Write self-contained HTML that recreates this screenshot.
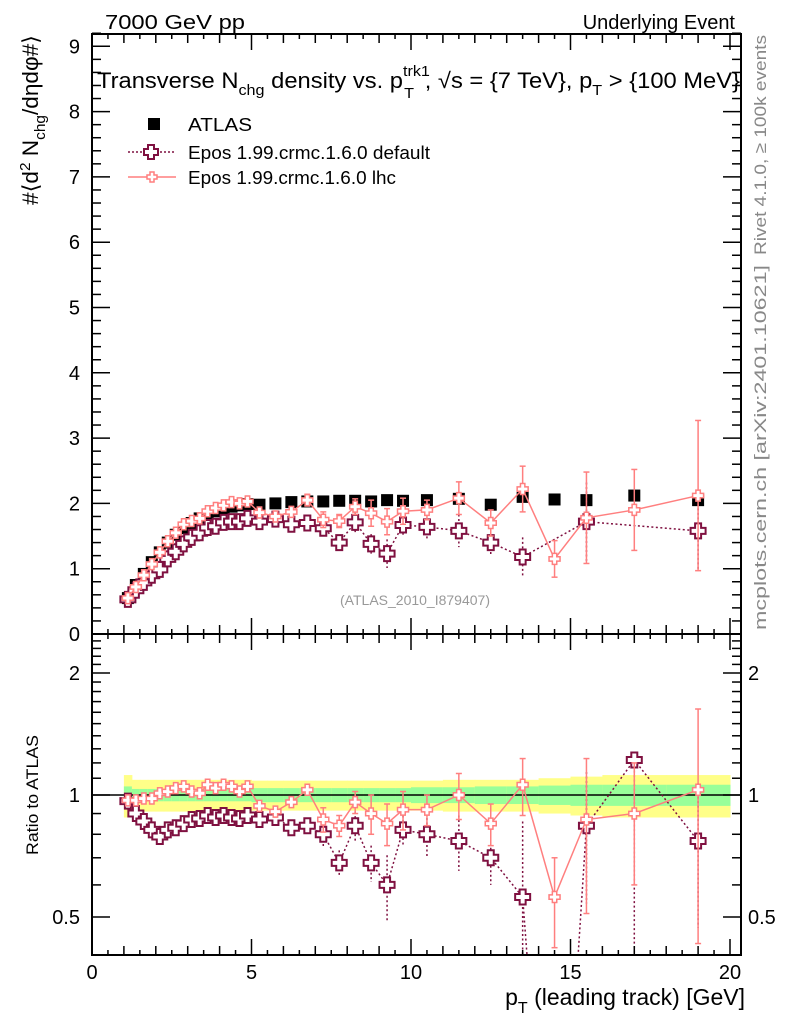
<!DOCTYPE html>
<html><head><meta charset="utf-8"><style>
html,body{margin:0;padding:0;background:#fff;overflow:hidden;}
svg{display:block;font-family:"Liberation Sans",sans-serif;}
</style></head><body>
<svg id="chart" width="786" height="1024" viewBox="0 0 786 1024" xmlns="http://www.w3.org/2000/svg">
<defs>
<clipPath id="clipMain"><rect x="92" y="34" width="649" height="600"/></clipPath>
<clipPath id="clipRatio"><rect x="92" y="634" width="649" height="321"/></clipPath>
</defs>
<text x="105" y="29" font-size="20" textLength="140" lengthAdjust="spacingAndGlyphs">7000 GeV pp</text>
<text x="735" y="29" font-size="20" text-anchor="end">Underlying Event</text>
<text transform="translate(766,255) rotate(-90)" font-size="17" fill="#888" textLength="220" lengthAdjust="spacingAndGlyphs">Rivet 4.1.0, ≥ 100k events</text>
<text transform="translate(766,630) rotate(-90)" font-size="17" fill="#888" textLength="365" lengthAdjust="spacingAndGlyphs">mcplots.cern.ch [arXiv:2401.10621]</text>
<g id="grid"></g>
<g id="marks"></g>
<rect x="92" y="34" width="649" height="600" fill="none" stroke="#000" stroke-width="2"/>
<rect x="92" y="634" width="649" height="321" fill="none" stroke="#000" stroke-width="2"/>
<g id="axes"></g>
<text x="97" y="88" font-size="22" textLength="643" lengthAdjust="spacingAndGlyphs">Transverse N<tspan font-size="15" dy="7">chg</tspan><tspan dy="-7"> density vs. p</tspan><tspan font-size="15" dy="-12">trk1</tspan><tspan font-size="15" dx="-24" dy="22">T</tspan><tspan dy="-10" dx="10">, √s = {7 TeV}, p</tspan><tspan font-size="15" dy="7">T</tspan><tspan dy="-7"> &gt; {100 MeV}</tspan></text>
<g>
<rect x="148" y="118" width="12" height="12" fill="#000"/>
<text x="188" y="131" font-size="18" textLength="64" lengthAdjust="spacingAndGlyphs">ATLAS</text>
<line x1="128" y1="152" x2="176" y2="152" stroke="#7f1040" stroke-width="1.5" stroke-dasharray="2,2"/>
<path d="M148,145h6v4h4v6h-4v4h-6v-4h-4v-6h4z" fill="#fff" stroke="#7f1040" stroke-width="2"/>
<text x="188" y="159" font-size="18" textLength="242" lengthAdjust="spacingAndGlyphs">Epos 1.99.crmc.1.6.0 default</text>
<line x1="128" y1="177" x2="176" y2="177" stroke="#ff7f7f" stroke-width="1.5"/>
<path d="M150,172h4v3h3v4h-3v3h-4v-3h-3v-4h3z" fill="#fff" stroke="#ff7f7f" stroke-width="1.5"/>
<text x="188" y="184" font-size="18" textLength="208" lengthAdjust="spacingAndGlyphs">Epos 1.99.crmc.1.6.0 lhc</text>
</g>
<text x="415" y="605" font-size="14" fill="#999" text-anchor="middle">(ATLAS_2010_I879407)</text>
<text transform="translate(38,205) rotate(-90)" font-size="22" textLength="170" lengthAdjust="spacingAndGlyphs">#⟨d<tspan font-size="15" dy="-8">2</tspan><tspan dy="8"> N</tspan><tspan font-size="15" dy="7">chg</tspan><tspan dy="-7">/dηdφ#⟩</tspan></text>
<text transform="translate(38,855) rotate(-90)" font-size="17" textLength="120" lengthAdjust="spacingAndGlyphs">Ratio to ATLAS</text>
<text x="745" y="1005" font-size="23" text-anchor="end">p<tspan font-size="16" dy="8">T</tspan><tspan dy="-8"> (leading track) [GeV]</tspan></text>
</svg>
<script>
const xs = [1.125,1.375,1.625,1.875,2.125,2.375,2.625,2.875,3.125,3.375,3.625,3.875,4.125,4.375,4.625,4.875,5.25,5.75,6.25,6.75,7.25,7.75,8.25,8.75,9.25,9.75,10.5,11.5,12.5,13.5,14.5,15.5,17,19];
const atlas = [0.55,0.75,0.92,1.1,1.25,1.4,1.52,1.62,1.7,1.77,1.83,1.88,1.92,1.95,1.97,1.99,1.98,2.0,2.02,2.03,2.03,2.04,2.04,2.03,2.05,2.04,2.05,2.07,1.98,2.1,2.06,2.05,2.12,2.05];
const lhc = [0.55,0.72,0.9,1.07,1.25,1.42,1.55,1.68,1.73,1.77,1.88,1.93,1.97,2.02,2.0,2.03,1.86,1.8,1.87,2.05,1.75,1.73,1.95,1.85,1.72,1.88,1.9,2.08,1.7,2.22,1.15,1.78,1.9,2.12];
const lhcErr = [0.02,0.02,0.02,0.02,0.02,0.02,0.02,0.03,0.03,0.03,0.03,0.04,0.04,0.05,0.05,0.05,0.05,0.06,0.07,0.09,0.12,0.1,0.12,0.2,0.2,0.2,0.15,0.25,0.2,0.35,0.28,0.7,0.62,1.15];
const def = [0.53,0.67,0.79,0.9,0.99,1.15,1.26,1.38,1.48,1.55,1.63,1.65,1.71,1.72,1.72,1.77,1.72,1.76,1.68,1.7,1.62,1.4,1.71,1.38,1.23,1.67,1.64,1.58,1.4,1.18,null,1.72,null,1.58];
const defErr = [0.02,0.02,0.02,0.02,0.02,0.02,0.02,0.03,0.03,0.03,0.03,0.04,0.04,0.04,0.05,0.05,0.05,0.06,0.07,0.08,0.12,0.1,0.15,0.15,0.22,0.15,0.2,0.25,0.2,0.3,0,0.6,0,0.62];
const lhcRatio = [0.97,0.97,0.98,0.98,1.01,1.02,1.04,1.05,1.02,1.01,1.06,1.04,1.06,1.05,1.02,1.05,0.94,0.91,0.96,1.03,0.87,0.84,0.96,0.9,0.85,0.92,0.92,1.0,0.85,1.06,0.56,0.87,0.9,1.03];
const lhcRatioErr = [0.02,0.02,0.02,0.02,0.02,0.02,0.02,0.02,0.02,0.02,0.02,0.02,0.02,0.03,0.03,0.03,0.03,0.03,0.04,0.04,0.06,0.05,0.06,0.1,0.1,0.1,0.08,0.13,0.1,0.17,0.14,0.36,0.3,0.6];
const defRatio = [0.966,0.9,0.86,0.82,0.79,0.82,0.83,0.85,0.87,0.875,0.89,0.88,0.89,0.88,0.875,0.89,0.87,0.88,0.83,0.84,0.8,0.68,0.84,0.68,0.6,0.82,0.8,0.77,0.7,0.56,0.05,0.84,1.22,0.77];
const defRatioErr = [0.02,0.02,0.02,0.02,0.02,0.02,0.02,0.02,0.02,0.02,0.02,0.02,0.02,0.02,0.03,0.03,0.03,0.03,0.04,0.04,0.06,0.05,0.07,0.07,0.11,0.07,0.1,0.12,0.1,0.3,0,0.3,1.0,0.3];
const defRatioErrUp = [0.02,0.02,0.02,0.02,0.02,0.02,0.02,0.02,0.02,0.02,0.02,0.02,0.02,0.02,0.03,0.03,0.03,0.03,0.04,0.04,0.06,0.05,0.07,0.07,0.11,0.07,0.1,0.12,0.1,0.3,0,0.3,0.02,0.3];
const bandYellow = [0.12,0.09,0.09,0.09,0.09,0.09,0.09,0.09,0.09,0.09,0.09,0.09,0.09,0.09,0.09,0.09,0.085,0.085,0.085,0.085,0.085,0.085,0.085,0.085,0.085,0.085,0.085,0.09,0.09,0.09,0.1,0.11,0.12,0.12];
const bandGreen = [0.05,0.035,0.035,0.035,0.035,0.035,0.035,0.035,0.035,0.035,0.035,0.035,0.035,0.035,0.035,0.035,0.04,0.04,0.04,0.04,0.04,0.04,0.04,0.04,0.04,0.04,0.045,0.045,0.05,0.05,0.055,0.06,0.06,0.06];
const binEdges = [1.0,1.25,1.5,1.75,2.0,2.25,2.5,2.75,3.0,3.25,3.5,3.75,4.0,4.25,4.5,4.75,5.0,5.5,6.0,6.5,7.0,7.5,8.0,8.5,9.0,9.5,10.0,11.0,12.0,13.0,14.0,15.0,16.0,18.0,20.0];
const xTickMajor = [0,5,10,15,20];
const yTickMain = [0,1,2,3,4,5,6,7,8,9];
const yTickRatioLabels = [0.5,1,2];
const yTickRatioMinor = [0.5,0.6,0.7,0.8,0.9,1,1.1,1.2,1.3,1.4,1.5,1.6,1.7,1.8,1.9,2,2.1,2.2,2.3,2.4];

const NS="http://www.w3.org/2000/svg";
const X = v => 92 + v*31.9;
const Y = v => 634 - v*65.3;
const R = v => 795 - Math.log2(v)*122;
function mk(tag, attrs, parent){const e=document.createElementNS(NS,tag);for(const k in attrs)e.setAttribute(k,attrs[k]);parent.appendChild(e);return e;}
const grid=document.getElementById('grid'), marks=document.getElementById('marks'), axes=document.getElementById('axes');

const bands=mk('g',{'clip-path':'url(#clipRatio)'},grid);


for(let i=0;i<xs.length;i++){
  const x0=X(binEdges[i]), x1=X(binEdges[i+1]);
  const y=mk('rect',{x:x0,y:R(1+bandYellow[i]),width:x1-x0+0.5,height:R(1-bandYellow[i])-R(1+bandYellow[i]),fill:'#ffff88'},bands);
  
  
  const g=mk('rect',{x:x0,y:R(1+bandGreen[i]),width:x1-x0+0.5,height:R(1-bandGreen[i])-R(1+bandGreen[i]),fill:'#99ff99'},bands);
  
  
}
const one=mk('line',{x1:92,x2:741,y1:R(1),y2:R(1),stroke:'#000','stroke-width':1.5},grid);



function cross(parent,x,y,s,color,w){
  const a=s/2,b=s/5;
  return mk('path',{d:`M${x-b},${y-a}h${2*b}v${a-b}h${a-b}v${2*b}h${-(a-b)}v${a-b}h${-2*b}v${-(a-b)}h${-(a-b)}v${-2*b}h${a-b}z`,fill:'#fff',stroke:color,'stroke-width':w},parent);
}
function series(parent,vals,errs,errsUp,fy,color,dash,size,w,name,skipNull){
  const g=mk('g',{},parent);
  
  
  let pts=[];
  for(let i=0;i<xs.length;i++){ if(vals[i]==null) continue; pts.push(X(xs[i])+','+fy(vals[i])); }
  const l=mk('polyline',{points:pts.join(' '),fill:'none',stroke:color,'stroke-width':1.5},g);
  if(dash) l.setAttribute('stroke-dasharray',dash);
  
  
  for(let i=0;i<xs.length;i++){
    if(vals[i]==null) continue;
    const e=errs[i], eu=errsUp?errsUp[i]:errs[i];
    if(e>0.04){
      const lo=Math.max(vals[i]-e,0.01);
      const el=mk('line',{x1:X(xs[i]),x2:X(xs[i]),y1:fy(vals[i]+eu),y2:fy(lo),stroke:color,'stroke-width':1.5},g);
      if(dash) el.setAttribute('stroke-dasharray',dash);
      
      
      if(!dash){
        mk('line',{x1:X(xs[i])-3,x2:X(xs[i])+3,y1:fy(vals[i]+eu),y2:fy(vals[i]+eu),stroke:color,'stroke-width':1.5},g);
        mk('line',{x1:X(xs[i])-3,x2:X(xs[i])+3,y1:fy(lo),y2:fy(lo),stroke:color,'stroke-width':1.5},g);
      }
    }
  }
  for(let i=0;i<xs.length;i++){
    if(vals[i]==null) continue;
    if(skipNull && vals[i]<0.1) continue;
    const m=cross(g,X(xs[i]),fy(vals[i]),size,color,w);
    
    
  }
}
const mainG=mk('g',{'clip-path':'url(#clipMain)'},marks);


for(let i=0;i<xs.length;i++){
  const s=mk('rect',{x:X(xs[i])-6,y:Y(atlas[i])-6,width:12,height:12,fill:'#000'},mainG);
  
  
}
series(mainG,def,defErr,null,Y,'#7f1040','2,2.5',15,2,'epos-default',true);
series(mainG,lhc,lhcErr,null,Y,'#ff7f7f',null,11,1.5,'epos-lhc',true);
const ratG=mk('g',{'clip-path':'url(#clipRatio)'},marks);


series(ratG,defRatio,defRatioErr,defRatioErrUp,R,'#7f1040','2,2.5',15,2,'ratio-default',true);
series(ratG,lhcRatio,lhcRatioErr,null,R,'#ff7f7f',null,11,1.5,'ratio-lhc',false);

for(let v=0; v<=20.3; v+=0.5){
  const isMaj=Math.abs(v%5)<1e-9, isInt=Math.abs(v%1)<1e-9;
  const len=isMaj?16:(isInt?9:5);
  mk('line',{x1:X(v),x2:X(v),y1:634,y2:634-len,stroke:'#000','stroke-width':1.5},axes);
  mk('line',{x1:X(v),x2:X(v),y1:955,y2:955-len,stroke:'#000','stroke-width':1.5},axes);
  mk('line',{x1:X(v),x2:X(v),y1:34,y2:34+len,stroke:'#000','stroke-width':1.5},axes);
  mk('line',{x1:X(v),x2:X(v),y1:634,y2:634+len,stroke:'#000','stroke-width':1.5},axes);
}
xTickMajor.forEach(v=>{
  const t=mk('text',{x:X(v),y:979,'font-size':20,'text-anchor':'middle'},axes);
  t.textContent=v;
  
  
});
for(let v=0; v<=9.2; v+=0.2){
  const maj=Math.abs(v-Math.round(v))<1e-6, len=maj?18:9;
  mk('line',{x1:92,x2:92+len,y1:Y(v),y2:Y(v),stroke:'#000','stroke-width':1.5},axes);
  mk('line',{x1:741,x2:741-len,y1:Y(v),y2:Y(v),stroke:'#000','stroke-width':1.5},axes);
}
yTickMain.forEach(v=>{
  const t=mk('text',{x:80,y:Y(v)+7,'font-size':20,'text-anchor':'end'},axes);
  t.textContent=v;
  
  
});
yTickRatioMinor.forEach(v=>{
  const maj=yTickRatioLabels.includes(v), len=maj?18:9;
  mk('line',{x1:92,x2:92+len,y1:R(v),y2:R(v),stroke:'#000','stroke-width':1.5},axes);
  mk('line',{x1:741,x2:741-len,y1:R(v),y2:R(v),stroke:'#000','stroke-width':1.5},axes);
});
yTickRatioLabels.forEach(v=>{
  const t=mk('text',{x:80,y:R(v)+7,'font-size':20,'text-anchor':'end'},axes);
  t.textContent=v;
  
  
  const t2=mk('text',{x:748,y:R(v)+7,'font-size':20},axes);
  t2.textContent=v;
  
  
});
</script>
</body></html>
